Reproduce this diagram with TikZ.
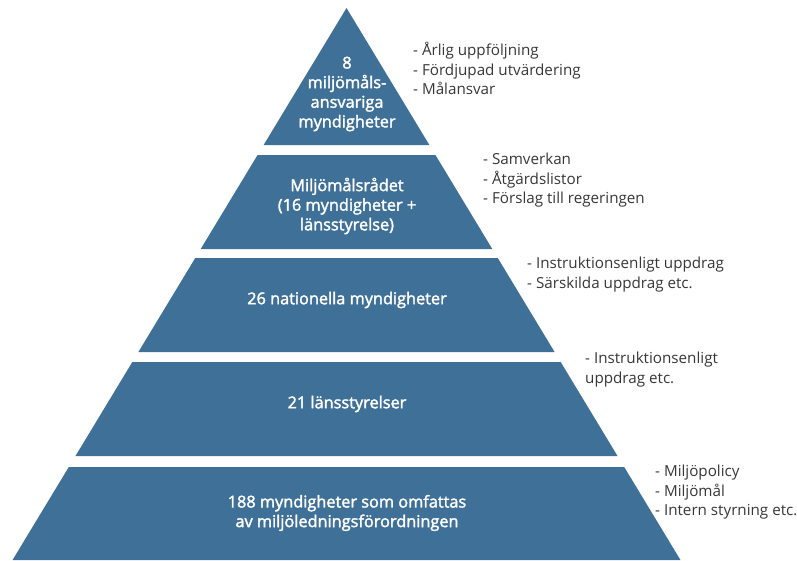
\documentclass[tikz,border=0pt]{standalone}
\usepackage{fontspec}
\setmainfont{Open Sans}
\newfontfamily\semib{Open Sans}[FakeBold=2.0]
\definecolor{pyrblue}{RGB}{63,112,151}
\definecolor{notegray}{RGB}{55,55,55}
\begin{document}
\begin{tikzpicture}[x=1pt,y=-1pt,
  layer/.style={fill=pyrblue},
  lbl/.style={text=white,align=center,font=\semib\fontsize{16.3}{19.6}\selectfont,inner sep=0pt},
  note/.style={text=notegray,align=left,anchor=north west,font=\fontsize{15.2}{19.5}\selectfont,inner sep=0pt}]
\useasboundingbox (0,0) rectangle (797,560);
\def\cx{346.5}
\def\sl{0.605}
% apex triangle
\fill[layer] (\cx,8) -- ({\cx+\sl*(145-8)},145) -- ({\cx-\sl*(145-8)},145) -- cycle;
\foreach \t/\b in {155/249,258/352,362/456,467/560}{
  \fill[layer] ({\cx-\sl*(\t-8)},\t) -- ({\cx+\sl*(\t-8)},\t) -- ({\cx+\sl*(\b-8)},\b) -- ({\cx-\sl*(\b-8)},\b) -- cycle;
}
\node[lbl] (l1) at (347,94) {8\\miljömåls-\\ansvariga\\myndigheter};
\node[lbl] (l2) at (347,206) {Miljömålsrådet\\(16 myndigheter +\\länsstyrelse)};
\node[lbl] (l3) at (347,300) {26 nationella myndigheter};
\node[lbl] (l4) at (347,404) {21 länsstyrelser};
\node[lbl] (l5) at (347,513) {188 myndigheter som omfattas\\av miljöledningsförordningen};
\node[note] (n1) at (413,42) {- Årlig uppföljning\\- Fördjupad utvärdering\\- Målansvar};
\node[note] (n2) at (483,153) {- Samverkan\\- Åtgärdslistor\\- Förslag till regeringen};
\node[note] (n3) at (527,257) {- Instruktionsenligt uppdrag\\- Särskilda uppdrag etc.};
\node[note] (n4) at (585,352) {- Instruktionsenligt\\uppdrag etc.};
\node[note] (n5) at (655,465) {- Miljöpolicy\\- Miljömål\\- Intern styrning etc.};
\end{tikzpicture}
\end{document}
